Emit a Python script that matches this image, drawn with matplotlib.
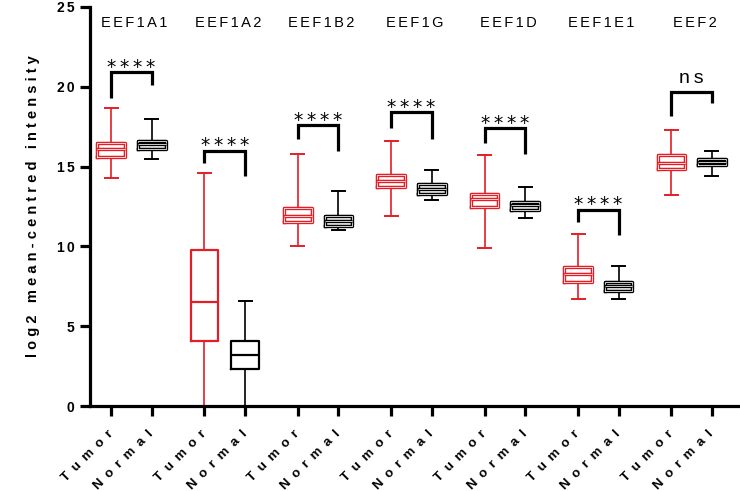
import matplotlib
matplotlib.use("Agg")
import matplotlib.pyplot as plt

genes = ['EEF1A1', 'EEF1A2', 'EEF1B2', 'EEF1G', 'EEF1D', 'EEF1E1', 'EEF2']
groups = ['Tumor', 'Normal']

tumor_whislo = [14.3, 0.0, 10.0, 11.9, 9.9, 6.7, 13.2]
tumor_q1 = [15.6, 4.1, 11.5, 13.7, 12.5, 7.8, 14.85]
tumor_med = [16.1, 6.5, 11.9, 14.1, 13.0, 8.3, 15.2]
tumor_q3 = [16.5, 9.75, 12.4, 14.5, 13.3, 8.7, 15.7]
tumor_whishi = [18.7, 14.6, 15.8, 16.6, 15.7, 10.8, 17.3]

normal_whislo = [15.5, 0.0, 11.0, 12.9, 11.8, 6.7, 14.4]
normal_q1 = [16.1, 2.3, 11.3, 13.3, 12.3, 7.2, 15.1]
normal_med = [16.4, 3.2, 11.6, 13.6, 12.6, 7.5, 15.3]
normal_q3 = [16.6, 4.1, 11.9, 13.9, 12.8, 7.8, 15.5]
normal_whishi = [18.0, 6.6, 13.5, 14.8, 13.7, 8.8, 16.0]

bracket_top = [20.9, 16.0, 17.6, 18.4, 17.4, 12.3, 19.7]
bracket_left = [19.3, 15.2, 16.7, 17.4, 16.5, 11.5, 18.2]
bracket_right = [20.1, 14.4, 16.0, 16.7, 15.8, 10.7, 19.0]
significance = ['****', '****', '****', '****', '****', '****', 'ns']

yticks = [0, 5, 10, 15, 20, 25]

RED = '#e41e26'
BLACK = '#000000'
THIN = '\u2009'
SIXTH = '\u2006'
FAM = ['Liberation Sans', 'DejaVu Sans']


def spaced(s, sep=THIN):
    return sep.join(list(s))


fig = plt.figure(figsize=(7.4, 4.91), dpi=100)
ax = fig.add_axes([90 / 740, 85 / 491, 650 / 740, 399 / 491])

step = 2.3
tpos = [i * step for i in range(len(genes))]
npos = [i * step + 1 for i in range(len(genes))]


def stats(lo, q1, med, q3, hi):
    return [dict(whislo=a, q1=b, med=c, q3=d, whishi=e, fliers=[])
            for a, b, c, d, e in zip(lo, q1, med, q3, hi)]


tstats = stats(tumor_whislo, tumor_q1, tumor_med, tumor_q3, tumor_whishi)
nstats = stats(normal_whislo, normal_q1, normal_med, normal_q3, normal_whishi)

for st, pos, col in [(tstats, tpos, RED), (nstats, npos, BLACK)]:
    ax.bxp(st, positions=pos, widths=0.68, showfliers=False,
           boxprops=dict(color=col, linewidth=1.6),
           medianprops=dict(color=col, linewidth=1.6),
           whiskerprops=dict(color=col, linewidth=1.2),
           capprops=dict(color=col, linewidth=1.4),
           capwidths=0.32, manage_ticks=False)
    # hollow outline look on the small boxes
    small = [k for k in range(len(st)) if genes[k] != 'EEF1A2']
    ax.bxp([st[k] for k in small], positions=[pos[k] for k in small],
           widths=0.68, showfliers=False, showcaps=False,
           boxprops=dict(color=col, linewidth=2.4),
           medianprops=dict(color=col, linewidth=2.4),
           whiskerprops=dict(linewidth=0), manage_ticks=False)
    ax.bxp([st[k] for k in small], positions=[pos[k] for k in small],
           widths=0.68, showfliers=False, showcaps=False,
           boxprops=dict(color='white', linewidth=0.55),
           medianprops=dict(color='white', linewidth=0.55),
           whiskerprops=dict(linewidth=0), manage_ticks=False)

# significance brackets
for i in range(len(genes)):
    x0, x1 = tpos[i], npos[i]
    ax.plot([x0, x0, x1, x1],
            [bracket_left[i], bracket_top[i], bracket_top[i], bracket_right[i]],
            color='black', linewidth=2.3, solid_joinstyle='miter',
            solid_capstyle='butt', clip_on=False)
    if significance[i] == 'ns':
        ax.text((x0 + x1) / 2, bracket_top[i] + 0.3, spaced('ns'),
                ha='center', va='bottom', fontsize=14, family=FAM)
    else:
        ax.text((x0 + x1) / 2, bracket_top[i] - 0.3, spaced(significance[i]),
                ha='center', va='bottom', fontsize=13.5, family=['DejaVu Sans'])

# gene labels
for i, g in enumerate(genes):
    ax.text((tpos[i] + npos[i]) / 2 + 0.08, 24.0, spaced(g, SIXTH), ha='center',
            va='center', fontsize=10.5, family=FAM)

ax.set_xlim(-0.52, 15.49)
ax.set_ylim(0, 25)
ax.set_yticks(yticks)
ax.set_yticklabels([spaced(str(v), SIXTH) for v in yticks], fontsize=10,
                   fontweight='bold', family=FAM)

xt = []
xl = []
for i in range(len(genes)):
    xt += [tpos[i], npos[i]]
    xl += groups
ax.set_xticks(xt)
ax.set_xticklabels([spaced(s, '\u2002') for s in xl], rotation=45, ha='right',
                   va='center', rotation_mode='anchor', fontsize=9.5,
                   fontweight='bold', family=FAM)

for s in ['top', 'right']:
    ax.spines[s].set_visible(False)
for s in ['left', 'bottom']:
    ax.spines[s].set_linewidth(2.3)
ax.tick_params(axis='both', width=2.3, length=7, direction='out')
ax.tick_params(axis='x', pad=12)
ax.tick_params(axis='y', pad=4)

ax.set_ylabel('l o g 2   m e a n - c e n t r e d   i n t e n s i t y',
              fontsize=10.5, fontweight='bold', family=FAM, labelpad=12)

fig.savefig('out.png', dpi=100)
